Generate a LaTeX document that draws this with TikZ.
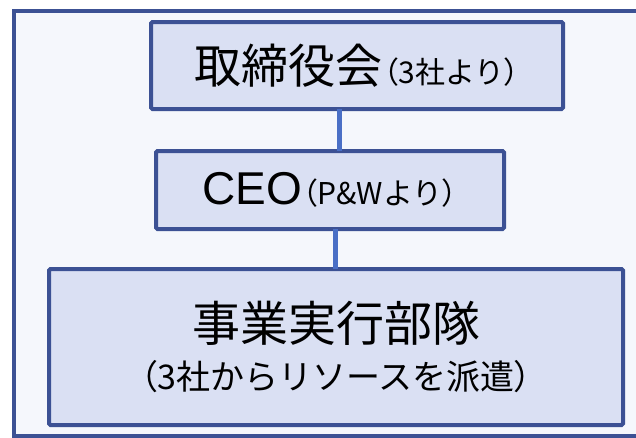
\documentclass[tikz,border=0pt]{standalone}
\usepackage{fontspec}
\setmainfont{Liberation Sans}
\newfontfamily\jp{Noto Sans CJK JP}
\newfontfamily\jpp[RawFeature=+palt]{Noto Sans CJK JP}
\newcommand{\lp}{{\jpp （}}
\newcommand{\rp}{{\jpp ）}}
\definecolor{frameline}{HTML}{3C5194}
\definecolor{framefill}{HTML}{F5F7FC}
\definecolor{boxfill}{HTML}{DAE0F3}
\definecolor{connblue}{HTML}{4A6FC6}
\tikzset{
  orgbox/.style={draw=frameline, line width=4pt, fill=boxfill, rounded corners=1.5pt,
    inner sep=0pt, outer sep=0pt, text=black},
  conn/.style={draw=connblue, line width=5pt},
}
\begin{document}
\begin{tikzpicture}[x=1pt,y=-1pt]
\useasboundingbox (0,0) rectangle (636,437);
\fill[white] (0,0) rectangle (636,437);
\draw[draw=frameline, fill=framefill, line width=4pt] (14,11) rectangle (660,436);
\coordinate (c1) at (339,0);
\coordinate (c2) at (335,0);
\node[orgbox, minimum width=412pt, minimum height=87pt] (b1) at (357,65.5)
  {{\jp\fontsize{47}{52}\selectfont 取締役会}\,{\jp\fontsize{30}{34}\selectfont \lp 3社より\rp}};
\node[orgbox, minimum width=348pt, minimum height=78pt] (b2) at (330,190)
  {{\fontsize{46}{50}\selectfont CEO}{\jp\fontsize{30}{34}\selectfont \lp P\&Wより\rp}};
\node[orgbox, minimum width=574pt, minimum height=156pt, align=center] (b3) at (336,347)
  {{\jp\fontsize{48}{52}\selectfont 事業実行部隊}\\[14pt]{\jp\fontsize{34}{52}\selectfont \lp 3社からリソースを派遣\rp}};
\draw[conn] (b1.south -| c1) -- (b2.north -| c1);
\draw[conn] (b2.south -| c2) -- (b3.north -| c2);
\end{tikzpicture}
\end{document}
